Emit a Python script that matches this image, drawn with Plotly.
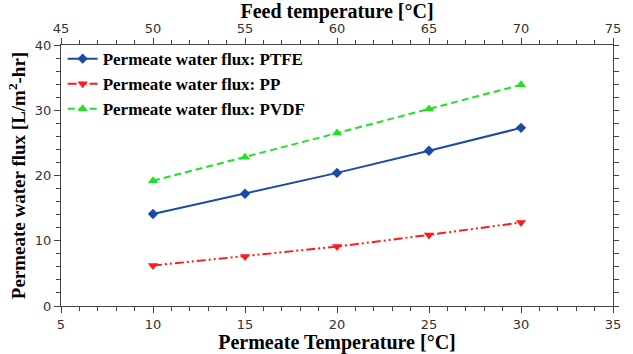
import plotly.graph_objects as go

permeate_temp = [10, 15, 20, 25, 30]
flux_ptfe = [14.1, 17.2, 20.4, 23.8, 27.3]
flux_pp = [6.2, 7.6, 9.1, 10.9, 12.8]
flux_pvdf = [19.2, 22.8, 26.5, 30.2, 33.9]

names = ["Permeate water flux: PTFE", "Permeate water flux: PP", "Permeate water flux: PVDF"]

fig = go.Figure()
fig.add_trace(go.Scatter(x=permeate_temp, y=flux_ptfe, name="<b>" + names[0] + "</b>", mode="lines+markers",
                         line=dict(color="#1a4aa6", width=2, dash="solid"),
                         marker=dict(symbol="diamond", size=8, color="#1a4aa6")))
fig.add_trace(go.Scatter(x=permeate_temp, y=flux_pp, name="<b>" + names[1] + "</b>", mode="lines+markers",
                         line=dict(color="#ff1a1a", width=2, dash="9px,3px,2px,3px,2px,3px"),
                         marker=dict(symbol="triangle-down", size=9, color="#ff1a1a")))
fig.add_trace(go.Scatter(x=permeate_temp, y=flux_pvdf, name="<b>" + names[2] + "</b>", mode="lines+markers",
                         line=dict(color="#22e022", width=2, dash="7px,4px"),
                         marker=dict(symbol="triangle-up", size=9, color="#22e022")))
# invisible traces to activate top and right axes
fig.add_trace(go.Scatter(x=[45, 75], y=[0, 40], xaxis="x2", yaxis="y", mode="markers",
                         marker=dict(opacity=0), showlegend=False, hoverinfo="skip"))
fig.add_trace(go.Scatter(x=[5, 35], y=[0, 40], xaxis="x", yaxis="y2", mode="markers",
                         marker=dict(opacity=0), showlegend=False, hoverinfo="skip"))

tickfont = dict(family="DejaVu Sans", size=13, color="#333333")
titlefont = dict(family="Liberation Serif", size=20, color="#000000")
axcol = "#444444"

fig.update_layout(
    width=633, height=354,
    margin=dict(l=61, r=20, t=45, b=48),
    paper_bgcolor="white", plot_bgcolor="white",
    showlegend=True,
    legend=dict(x=0.003, y=1.015, xanchor="left", yanchor="top",
                font=dict(family="Liberation Serif", size=17, color="#000000"),
                bgcolor="rgba(0,0,0,0)", tracegroupgap=0, itemwidth=30),
    xaxis=dict(range=[5, 35], dtick=5, tick0=5, showgrid=False, zeroline=False, automargin=False,
               ticks="outside", ticklen=6, tickcolor=axcol, showline=True, linecolor=axcol,
               linewidth=1, tickfont=tickfont,
               minor=dict(dtick=1, ticks="outside", ticklen=4, tickcolor=axcol),
               title=dict(text="<b>Permeate Temperature [°C]</b>", font=titlefont, standoff=5)),
    xaxis2=dict(range=[45, 75], dtick=5, tick0=45, overlaying="x", side="top", anchor="y",
                showgrid=False, zeroline=False, automargin=False, ticks="outside", ticklen=6, tickcolor=axcol,
                showline=True, linecolor=axcol, linewidth=1, tickfont=tickfont,
                minor=dict(dtick=1, ticks="outside", ticklen=4, tickcolor=axcol),
                title=dict(text="<b>Feed temperature [°C]</b>", font=titlefont, standoff=0)),
    yaxis=dict(range=[0, 40], dtick=10, showgrid=False, zeroline=False, automargin=False,
               ticks="outside", ticklen=6, tickcolor=axcol, showline=True, linecolor=axcol,
               linewidth=1, tickfont=tickfont,
               minor=dict(dtick=2, ticks="outside", ticklen=4, tickcolor=axcol),
               title=dict(text="<b>Permeate water flux [L/m<sup>2</sup>-hr]</b>",
                          font=dict(family="Liberation Serif", size=19, color="#000000"), standoff=4)),
    yaxis2=dict(range=[0, 40], dtick=2, overlaying="y", side="right", anchor="x", automargin=False,
                showgrid=False, zeroline=False, ticks="outside", ticklen=5, tickcolor=axcol,
                showline=True, linecolor=axcol, linewidth=1, showticklabels=False),
)

fig.write_html("out.html", config={"displayModeBar": False},
               post_script="document.body.style.margin='0';document.body.style.overflow='hidden';")
